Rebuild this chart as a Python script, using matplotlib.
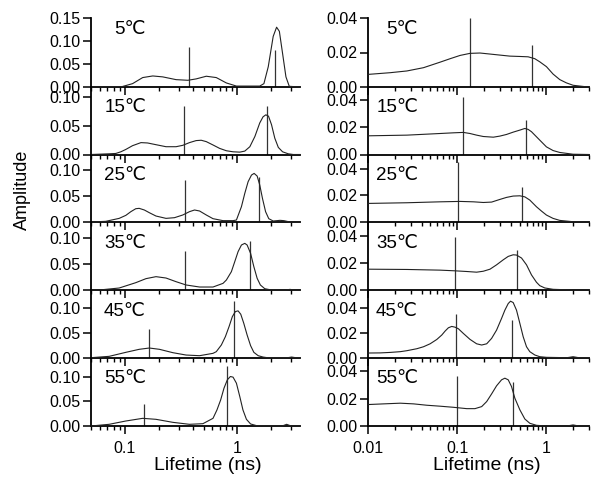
import matplotlib
matplotlib.use("Agg")
import matplotlib.pyplot as plt
from matplotlib.ticker import FixedLocator, LogLocator, NullFormatter, FixedFormatter

plt.rcParams["font.family"] = ["Liberation Sans", "DejaVu Sans"]

temps = ["5℃", "15℃", "25℃", "35℃", "45℃", "55℃"]

# left column: lifetime distributions (ns) and amplitudes
left_5_t = [0.05, 0.095, 0.117, 0.144, 0.177, 0.217, 0.285, 0.363, 0.43, 0.529, 0.649, 0.798, 0.98,
            1.58, 1.72, 1.88, 2.08, 2.23, 2.36, 2.52, 2.70, 2.89, 3.6]
left_5_a = [0, 0.001, 0.0073, 0.0205, 0.024, 0.022, 0.016, 0.0146, 0.0176, 0.0234, 0.0205, 0.0088, 0.002,
            0.002, 0.0073, 0.044, 0.11, 0.130, 0.121, 0.073, 0.022, 0.0015, 0]
left_15_t = [0.05, 0.0725, 0.0831, 0.0921, 0.102, 0.117, 0.139, 0.159, 0.189, 0.232, 0.285, 0.327, 0.375,
             0.430, 0.477, 0.529, 0.607, 0.695, 0.798, 0.915, 1.05, 1.163, 1.29, 1.43, 1.58, 1.69,
             1.79, 1.89, 2.01, 2.15, 2.31, 2.52, 2.83, 3.14, 3.6]
left_15_a = [0, 0.0012, 0.0018, 0.0047, 0.0088, 0.0153, 0.0206, 0.0200, 0.0170, 0.0135, 0.0135, 0.0159,
             0.0206, 0.0241, 0.0247, 0.0223, 0.0165, 0.0106, 0.0065, 0.0047, 0.0041, 0.0059, 0.0135,
             0.0312, 0.0547, 0.0653, 0.0688, 0.0664, 0.0517, 0.0282, 0.0123, 0.0047, 0.0012, 0, 0]
left_25_t = [0.05, 0.0676, 0.089, 0.102, 0.113, 0.125, 0.134, 0.149, 0.165, 0.189, 0.232, 0.276, 0.327,
             0.375, 0.416, 0.461, 0.529, 0.607, 0.745, 0.915, 0.98, 1.086, 1.163, 1.245, 1.334, 1.408,
             1.498, 1.58, 1.67, 1.78, 1.90, 2.08, 2.39, 2.59, 2.93, 3.6]
left_25_a = [0, 0.0013, 0.007, 0.0128, 0.0199, 0.0256, 0.0263, 0.0231, 0.0179, 0.0115, 0.0070, 0.0083,
             0.0135, 0.0199, 0.0231, 0.0212, 0.0135, 0.0064, 0.0026, 0.0026, 0.0038, 0.0295, 0.0551,
             0.0776, 0.0904, 0.0936, 0.0885, 0.0712, 0.0455, 0.0199, 0.0064, 0.0019, 0.0032, 0.0026, 0, 0]
left_35_t = [0.05, 0.0632, 0.089, 0.125, 0.154, 0.189, 0.232, 0.285, 0.350, 0.461, 0.607, 0.745, 0.798,
             0.884, 0.947, 1.014, 1.086, 1.163, 1.22, 1.31, 1.40, 1.498, 1.60, 1.75, 1.94, 2.7, 2.93,
             3.2, 3.6]
left_35_a = [0, 0.0006, 0.0038, 0.014, 0.0217, 0.0255, 0.0229, 0.0159, 0.0096, 0.0057, 0.0057, 0.0127,
             0.0191, 0.035, 0.0541, 0.0733, 0.086, 0.0892, 0.086, 0.070, 0.0446, 0.0223, 0.0096, 0.0025,
             0.0006, 0, 0.0012, 0, 0]
left_45_t = [0.05, 0.0725, 0.102, 0.134, 0.165, 0.203, 0.267, 0.350, 0.461, 0.607, 0.649, 0.72, 0.782,
             0.843, 0.902, 0.96, 1.014, 1.071, 1.139, 1.22, 1.31, 1.40, 1.53, 1.69, 1.85, 2.8, 3.03,
             3.3, 3.6]
left_45_a = [0, 0.0027, 0.0107, 0.0167, 0.0193, 0.0167, 0.01, 0.0053, 0.004, 0.0087, 0.012, 0.0253,
             0.042, 0.062, 0.082, 0.092, 0.0934, 0.0867, 0.0687, 0.0453, 0.0240, 0.0107, 0.0040, 0.0013,
             0, 0, 0.0013, 0, 0]
left_55_t = [0.05, 0.0725, 0.102, 0.144, 0.189, 0.267, 0.375, 0.494, 0.607, 0.658, 0.71, 0.76, 0.814,
             0.866, 0.915, 0.98, 1.05, 1.12, 1.203, 1.31, 1.48, 2.5, 2.74, 3.0, 3.6]
left_55_a = [0, 0.0034, 0.0101, 0.0155, 0.0135, 0.0074, 0.0034, 0.0047, 0.0155, 0.0324, 0.0527, 0.0764,
             0.0933, 0.100, 0.0987, 0.0865, 0.0595, 0.0325, 0.0135, 0.0041, 0.0007, 0, 0.0034, 0, 0]

# left column: discrete components (lifetime, amplitude)
left_sticks_t = [[0.370, 2.18], [0.332, 1.85], [0.341, 1.56], [0.341, 1.29], [0.164, 0.94], [0.149, 0.814]]
left_sticks_a = [[0.0879, 0.0805], [0.0841, 0.0841], [0.0808, 0.0872], [0.0752, 0.0936],
                 [0.0573, 0.114], [0.0446, 0.122]]

# right column
right_5_t = [0.01, 0.0178, 0.0273, 0.0419, 0.0643, 0.0832, 0.1076, 0.139, 0.180, 0.214, 0.301, 0.389,
             0.504, 0.624, 0.741, 0.842, 1.0, 1.187, 1.41, 1.673, 1.99, 2.92, 3.0]
right_5_a = [0.0073, 0.0083, 0.0093, 0.0112, 0.0144, 0.0164, 0.0183, 0.0195, 0.0197, 0.0193, 0.0185,
             0.0179, 0.0177, 0.0175, 0.0164, 0.0146, 0.0118, 0.0075, 0.0043, 0.0024, 0.001, 0, 0]
right_15_t = [0.01, 0.0273, 0.0643, 0.0906, 0.117, 0.139, 0.165, 0.196, 0.254, 0.301, 0.357, 0.424,
              0.504, 0.573, 0.624, 0.680, 0.773, 0.879, 1.0, 1.187, 1.41, 1.99, 3.0]
right_15_a = [0.0137, 0.0142, 0.0154, 0.0159, 0.0162, 0.0154, 0.0142, 0.0132, 0.0127, 0.0135, 0.0147,
              0.0164, 0.0179, 0.0191, 0.0184, 0.0167, 0.0130, 0.0093, 0.0056, 0.0029, 0.0015, 0.0002, 0]
right_25_t = [0.01, 0.0273, 0.0643, 0.1076, 0.152, 0.196, 0.243, 0.301, 0.357, 0.424, 0.504, 0.573,
              0.651, 0.773, 0.879, 1.0, 1.187, 1.41, 1.99, 3.0]
right_25_a = [0.0139, 0.0144, 0.0151, 0.0154, 0.0151, 0.0146, 0.0149, 0.0169, 0.0184, 0.0194, 0.0196,
              0.0188, 0.0164, 0.0114, 0.0082, 0.0052, 0.0027, 0.0012, 0.0002, 0]
right_35_t = [0.01, 0.0273, 0.0643, 0.0946, 0.128, 0.165, 0.196, 0.233, 0.276, 0.328, 0.373, 0.424,
              0.462, 0.526, 0.598, 0.680, 0.773, 0.842, 0.958, 1.187, 1.99, 3.0]
right_35_a = [0.0153, 0.0151, 0.0146, 0.0141, 0.0136, 0.0131, 0.0138, 0.0153, 0.0185, 0.0222, 0.0247,
              0.0259, 0.0257, 0.0235, 0.0185, 0.0111, 0.0057, 0.0032, 0.0015, 0.0005, 0, 0]
right_45_t = [0.01, 0.01374, 0.0178, 0.0230, 0.0273, 0.0353, 0.0419, 0.0497, 0.0590, 0.0671, 0.0731,
              0.0796, 0.0868, 0.0946, 0.1031, 0.1172, 0.139, 0.165, 0.188, 0.214, 0.243, 0.276, 0.314,
              0.342, 0.373, 0.396, 0.424, 0.462, 0.504, 0.549, 0.598, 0.651, 0.741, 0.842, 1.0, 1.7,
              1.99, 2.3, 3.0]
right_45_a = [0.0038, 0.0039, 0.0043, 0.0049, 0.0057, 0.0073, 0.0089, 0.0113, 0.0148, 0.0184, 0.0216,
              0.0243, 0.0254, 0.0248, 0.0235, 0.0197, 0.0149, 0.0113, 0.0103, 0.0113, 0.0157, 0.0224,
              0.0319, 0.0386, 0.0440, 0.0459, 0.0448, 0.0386, 0.0278, 0.0170, 0.0089, 0.0049, 0.0022,
              0.0008, 0.0003, 0, 0.0008, 0, 0]
right_55_t = [0.01, 0.01496, 0.023, 0.0324, 0.0456, 0.0643, 0.0906, 0.128, 0.158, 0.188, 0.214, 0.243,
              0.276, 0.314, 0.342, 0.373, 0.406, 0.443, 0.504, 0.573, 0.651, 0.773, 1.0, 1.7, 1.99, 2.3,
              3.0]
right_55_a = [0.0157, 0.0162, 0.0167, 0.0162, 0.0152, 0.0145, 0.0137, 0.0127, 0.0127, 0.0142, 0.0179,
              0.0235, 0.0294, 0.0338, 0.035, 0.0338, 0.0289, 0.0203, 0.0118, 0.0051, 0.002, 0.0005, 0,
              0, 0.0008, 0, 0]

right_sticks_t = [[0.139, 0.692], [0.116, 0.588], [0.103, 0.535], [0.0946, 0.462], [0.098, 0.413],
                  [0.0987, 0.417]]
right_sticks_a = [[0.040, 0.0246], [0.0419, 0.0252], [0.0448, 0.0263], [0.039, 0.0291], [0.0351, 0.031],
                  [0.0363, 0.0319]]

left_curves = [(left_5_t, left_5_a), (left_15_t, left_15_a), (left_25_t, left_25_a),
               (left_35_t, left_35_a), (left_45_t, left_45_a), (left_55_t, left_55_a)]
right_curves = [(right_5_t, right_5_a), (right_15_t, right_15_a), (right_25_t, right_25_a),
                (right_35_t, right_35_a), (right_45_t, right_45_a), (right_55_t, right_55_a)]

left_ymax = [0.15, 0.117, 0.13, 0.13, 0.135, 0.138]
right_ymax = [0.04, 0.0495, 0.0505, 0.05, 0.055, 0.05]
left_yticks = [[0, 0.05, 0.10, 0.15]] + [[0, 0.05, 0.10]] * 5
right_yticks = [[0, 0.02, 0.04]] * 6

W, H = 600, 484
fig = plt.figure(figsize=(W / 100, H / 100), dpi=100)

row_top = [18, 87, 154.5, 222, 290, 357.7]
row_bot = [87, 154.5, 222, 290, 357.7, 426]


def style_axis(ax, xlim, major, major_labels, show_xlabels, ymax, yticks):
    ax.set_xscale("log")
    ax.set_xlim(*xlim)
    ax.set_ylim(0, ymax)
    for side in ("top", "right"):
        ax.spines[side].set_visible(False)
    for side in ("left", "bottom"):
        ax.spines[side].set_linewidth(1.3)
    ax.xaxis.set_major_locator(FixedLocator(major))
    ax.xaxis.set_minor_locator(LogLocator(base=10, subs=range(2, 10)))
    ax.xaxis.set_minor_formatter(NullFormatter())
    if show_xlabels:
        ax.xaxis.set_major_formatter(FixedFormatter(major_labels))
    else:
        ax.xaxis.set_major_formatter(NullFormatter())
    ax.set_yticks(yticks)
    ax.set_yticklabels(["%.2f" % v for v in yticks])
    ax.tick_params(axis="both", which="major", direction="out", length=5.5, width=1.1,
                   labelsize=11.5, pad=2)
    ax.tick_params(axis="x", which="major", pad=5)
    ax.tick_params(axis="x", which="minor", direction="out", length=3, width=1.0)
    ax.patch.set_alpha(0)


for col in range(2):
    if col == 0:
        x0, x1 = 91, 300
        xlim = (0.05, 3.6)
        major, major_labels = [0.1, 1], ["0.1", "1"]
        curves, sticks_t, sticks_a = left_curves, left_sticks_t, left_sticks_a
        ymaxes, yticks_all = left_ymax, left_yticks
        lab_x = (146 - x0) / (x1 - x0)
        xlab_px = 208
    else:
        x0, x1 = 368, 589
        xlim = (0.01, 3.0)
        major, major_labels = [0.01, 0.1, 1], ["0.01", "0.1", "1"]
        curves, sticks_t, sticks_a = right_curves, right_sticks_t, right_sticks_a
        ymaxes, yticks_all = right_ymax, right_yticks
        lab_x = (418 - x0) / (x1 - x0)
        xlab_px = 487
    for i in range(6):
        rect = [x0 / W, 1 - row_bot[i] / H, (x1 - x0) / W, (row_bot[i] - row_top[i]) / H]
        ax = fig.add_axes(rect)
        t, a = curves[i]
        ax.plot(t, a, color="#222222", lw=0.8, clip_on=False, zorder=3)
        ax.vlines(sticks_t[i], 0, sticks_a[i], color="#333333", lw=0.9, zorder=2)
        style_axis(ax, xlim, major, major_labels, i == 5, ymaxes[i], yticks_all[i])
        h = row_bot[i] - row_top[i]
        lab_y = (row_bot[i] - 30) / h if i == 0 else (h - 21) / h
        ax.text(lab_x, lab_y, temps[i], transform=ax.transAxes, ha="right", va="center",
                fontsize=13.5)
    fig.text(xlab_px / W, 1 - 466 / H, "Lifetime (ns)", ha="center", va="center", fontsize=14)

fig.text(22 / W, 1 - 190 / H, "Amplitude", rotation=90, ha="center", va="center", fontsize=13)

fig.savefig("out.png", dpi=100)
